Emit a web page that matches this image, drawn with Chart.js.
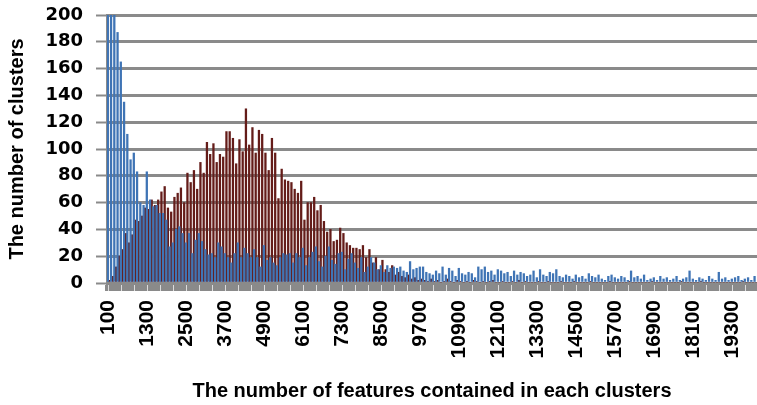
<!DOCTYPE html>
<html>
<head>
<meta charset="utf-8">
<script src="https://cdn.jsdelivr.net/npm/chart.js@4.4.1/dist/chart.umd.min.js"></script>
<style>
  html, body { margin: 0; padding: 0; background: #fff; }
  #wrap { width: 757px; height: 405px; position: relative; }
  #note { position: absolute; left: 380px; top: 20px; width: 370px; font: 10px monospace; color: rgba(255,255,255,0); background: rgba(255,255,255,0.01); white-space: pre-wrap; word-break: break-all; }
</style>
</head>
<body>
<div id="wrap"><canvas id="clusterChart" width="757" height="405"></canvas><div id="note"></div></div>
<script>
window.onerror = function(m) { document.getElementById('note').textContent += 'ERR ' + m + '\n'; };
// x categories: feature counts 100 .. 20000 in steps of 100
const categories = [];
for (let v = 100; v <= 20000; v += 100) categories.push(String(v));

// labels that are actually printed on the x axis
const tickLabels = ['100', '1300', '2500', '3700', '4900', '6100', '7300', '8500', '9700',
  '10900', '12100', '13300', '14500', '15700', '16900', '18100', '19300'];

// y axis range / step
const yMin = 0;
const yMax = 200;
const yStep = 20;

// blue series (first bars are cut at 200)
const blueCounts = [
  260, 240, 215, 187, 165, 135, 111, 92, 97, 83,
  60, 58, 83, 62, 57, 58, 52, 52, 47, 27,
  30, 40, 42, 37, 30, 37, 22, 32, 37, 31,
  25, 21, 22, 19, 30, 27, 22, 19, 15, 22,
  30, 19, 26, 22, 19, 25, 19, 12, 28, 17,
  19, 15, 13, 19, 22, 21, 22, 15, 22, 19,
  26, 13, 19, 23, 27, 16, 12, 20, 27, 17,
  14, 22, 23, 10, 18, 22, 15, 11, 19, 8,
  12, 19, 15, 10, 13, 8, 13, 11, 12, 11,
  12, 9, 8, 16, 10, 11, 12, 12, 8, 7,
  6, 9, 7, 12, 6, 11, 9, 5, 11, 7,
  6, 8, 7, 4, 12, 10, 12, 8, 9, 6,
  10, 9, 7, 8, 5, 9, 6, 8, 7, 5,
  6, 9, 4, 10, 6, 5, 8, 7, 10, 5,
  4, 6, 5, 3, 6, 4, 5, 3, 7, 5,
  4, 6, 3, 2, 5, 6, 4, 3, 5, 4,
  2, 9, 4, 5, 3, 6, 2, 3, 4, 2,
  5, 3, 4, 2, 3, 5, 2, 3, 4, 9,
  3, 2, 4, 3, 2, 5, 3, 2, 8, 3,
  4, 2, 3, 4, 5, 2, 3, 4, 2, 5
];

// dark red series
const redCounts = [
  2, 5, 12, 20, 25, 37, 30, 36, 47, 46,
  50, 56, 55, 62, 58, 62, 68, 72, 56, 53,
  64, 67, 71, 60, 82, 75, 84, 70, 90, 82,
  105, 96, 104, 90, 96, 94, 113, 113, 108, 89,
  107, 98, 130, 103, 116, 97, 114, 111, 97, 84,
  108, 97, 63, 85, 77, 76, 75, 70, 67, 76,
  47, 60, 60, 64, 54, 58, 46, 38, 40, 31,
  32, 41, 37, 30, 28, 26, 26, 25, 28, 19,
  25, 15, 19, 10, 17, 10, 8, 13, 6, 8,
  5, 4, 6, 3, 4, 2, 3, 2, 1, 3,
  1, 2, 0, 1, 3, 1, 0, 2, 1, 0,
  1, 0, 2, 1, 0, 1, 0, 1, 2, 0,
  0, 1, 0, 0, 1, 0, 2, 0, 1, 0,
  0, 0, 1, 0, 0, 1, 0, 0, 0, 1,
  0, 0, 0, 1, 0, 0, 0, 0, 1, 0,
  0, 0, 0, 0, 1, 0, 0, 0, 0, 0,
  1, 0, 0, 0, 0, 0, 0, 1, 0, 0,
  0, 0, 0, 0, 0, 0, 1, 0, 0, 0,
  0, 0, 1, 0, 0, 0, 0, 0, 0, 0,
  0, 0, 0, 0, 0, 1, 0, 0, 0, 0
];

const gray = '#8a8a8a';

const ctx = document.getElementById('clusterChart').getContext('2d');
const chart = new Chart(ctx, {
  type: 'bar',
  data: {
    labels: categories,
    datasets: [
      { label: 'Series 1', data: blueCounts, backgroundColor: '#3f74b5', borderWidth: 0 },
      { label: 'Series 2', data: redCounts, backgroundColor: '#641c19', borderWidth: 0 }
    ]
  },
  options: {
    responsive: false,
    animation: false,
    layout: { padding: { top: 15, right: 0, left: 0, bottom: 0 } },
    plugins: { legend: { display: false }, tooltip: { enabled: false } },
    datasets: { bar: { categoryPercentage: 1.0, barPercentage: 1.0 } },
    scales: {
      x: {
        // tick marks on every category make the thick grey band under the bars
        grid: { display: true, drawOnChartArea: false, color: gray, lineWidth: 3.3, tickLength: 8 },
        border: { display: true, color: gray, width: 3 },
        ticks: {
          autoSkip: false, minRotation: 90, maxRotation: 90, padding: 9, color: '#000',
          font: { family: 'Arial, "Liberation Sans"', size: 21, weight: 'bold' },
          callback: function(value) {
            const lab = this.getLabelForValue(value);
            return tickLabels.includes(lab) ? lab : '';
          }
        },
        title: {
          display: true,
          text: 'The number of features contained in each clusters',
          color: '#000',
          font: { family: 'Arial, "Liberation Sans"', size: 20, weight: 'bold' },
          padding: { top: 0, bottom: 2 }
        },
        afterFit: function(scale) { scale.height = 122; scale.paddingLeft = 0; scale.paddingRight = 0; }
      },
      y: {
        min: yMin, max: yMax,
        grid: { display: true, drawOnChartArea: true, color: gray, lineWidth: 3, tickLength: 11, tickColor: gray, tickWidth: 2 },
        border: { display: true, color: gray, width: 3 },
        ticks: { stepSize: yStep, padding: 13, color: '#000', font: { family: '"DejaVu Sans"', size: 18, weight: 'bold' } },
        title: {
          display: true,
          text: 'The number of clusters',
          color: '#000',
          font: { family: 'Arial, "Liberation Sans"', size: 20, weight: 'bold' },
          padding: { top: 5, bottom: 4 }
        },
        afterFit: function(scale) { scale.width = 107; scale.paddingTop = 0; scale.paddingBottom = 0; }
      }
    }
  }
});
const y = chart.scales.y;
document.getElementById('note').textContent += 'area ' + JSON.stringify(chart.chartArea) +
  '\ny box ' + [y.left, y.right, y.top, y.bottom].join(',');
</script>
</body>
</html>
